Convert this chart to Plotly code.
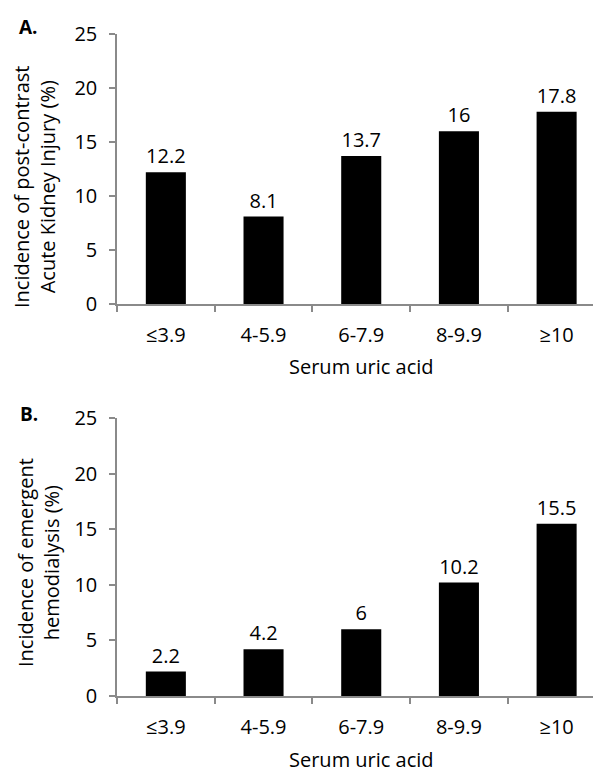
import plotly.graph_objects as go

categories = ["≤3.9", "4-5.9", "6-7.9", "8-9.9", "≥10"]
aki_values = [12.2, 8.1, 13.7, 16, 17.8]
hd_values = [2.2, 4.2, 6, 10.2, 15.5]
y_ticks = [0, 5, 10, 15, 20, 25]

# page body adds an 8px margin; compensate so the picture lands on 601x772
OFF = 8
W, H = 601 - OFF, 772 - OFF
FONT = "Open Sans"
FS = 20
axis_color = "#8a8a8a"


def px(x):
    return (x - OFF) / W


def py(y):
    return 1 - (y - OFF) / H


fig = go.Figure()
fig.add_trace(go.Bar(x=categories, y=aki_values, marker=dict(color="black", line=dict(width=0)),
                     width=0.41, text=[f"{v:g}" for v in aki_values], textposition="outside",
                     textfont=dict(family=FONT, size=FS, color="black"), cliponaxis=False,
                     xaxis="x", yaxis="y"))
fig.add_trace(go.Bar(x=categories, y=hd_values, marker=dict(color="black", line=dict(width=0)),
                     width=0.41, text=[f"{v:g}" for v in hd_values], textposition="outside",
                     textfont=dict(family=FONT, size=FS, color="black"), cliponaxis=False,
                     xaxis="x2", yaxis="y2"))

xr = [-0.5, (601 - 166.7) / 97.5]
common_x = dict(range=xr, showline=True, linecolor=axis_color, linewidth=1.5, ticks="outside",
                tickson="boundaries", ticklen=6, tickcolor=axis_color, tickwidth=1.5,
                tickfont=dict(family=FONT, size=FS, color="black"), showgrid=False,
                zeroline=False, ticklabelstandoff=12, automargin=False, fixedrange=True)
common_y = dict(range=[0, 25], tickvals=y_ticks, showline=True, linecolor=axis_color, linewidth=1.5,
                ticks="outside", ticklen=6, tickcolor=axis_color, tickwidth=1.5,
                tickfont=dict(family=FONT, size=FS, color="black"), showgrid=False,
                zeroline=False, ticklabelstandoff=8, automargin=False, fixedrange=True)

fig.update_layout(
    template="none",
    width=W, height=H, margin=dict(l=0, r=0, t=0, b=0, autoexpand=False),
    paper_bgcolor="white", plot_bgcolor="white", showlegend=False,
    xaxis=dict(domain=[px(117), 1], anchor="y", **common_x),
    yaxis=dict(domain=[py(304), py(34)], anchor="x", **common_y),
    xaxis2=dict(domain=[px(117), 1], anchor="y2", **common_x),
    yaxis2=dict(domain=[py(696), py(418)], anchor="x2", **common_y),
)


def ann(text, x, y, size=FS, angle=0, bold=False):
    fig.add_annotation(text=f"<b>{text}</b>" if bold else text, x=px(x), y=py(y),
                       xref="paper", yref="paper", showarrow=False, textangle=angle,
                       font=dict(family=FONT, size=size, color="black"),
                       xanchor="center", yanchor="middle")


ann("A.", 28, 27, size=19, bold=True)
ann("B.", 29, 414, size=19, bold=True)
ann("Incidence of post-contrast<br>Acute Kidney Injury (%)", 34, 187, angle=-90)
ann("Incidence of emergent<br>hemodialysis (%)", 38, 563, angle=-90)
ann("Serum uric acid", 361, 366)
ann("Serum uric acid", 361, 759)

fig.write_html("out.html")
